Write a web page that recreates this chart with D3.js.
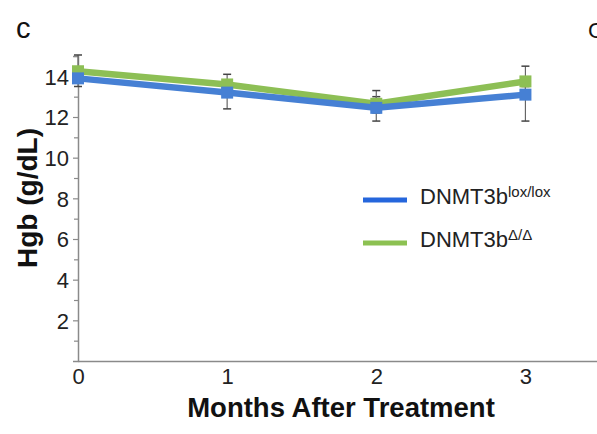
<!DOCTYPE html>
<html>
<head>
<meta charset="utf-8">
<script src="https://cdn.jsdelivr.net/npm/d3@7"></script>
<style>
  html, body { margin: 0; padding: 0; background: #fff; }
  svg { display: block; font-family: "Liberation Sans", Arial, sans-serif; }
</style>
</head>
<body>
<svg id="chart" width="597" height="434"></svg>
<script>
// Hemoglobin over time after treatment, two genotypes
const months = [0, 1, 2, 3];
const loxMean = [13.9, 13.2, 12.45, 13.1];
const loxErrLow = [13.5, 12.4, 11.8, 11.8];
const loxErrHigh = [14.3, 13.6, 13.0, 13.5];
const deltaMean = [14.25, 13.6, 12.65, 13.75];
const deltaErrLow = [13.9, 13.2, 12.2, 13.3];
const deltaErrHigh = [15.05, 14.1, 13.3, 14.5];
const yTicks = [2, 4, 6, 8, 10, 12, 14];
const yMinorTicks = [1, 3, 5, 7, 9, 11, 13, 15];
const xTicks = [0, 1, 2, 3];
const seriesNames = ["lox/lox", "Δ/Δ"];

const svg = d3.select("#chart");
const x = d3.scaleLinear().domain([0, 3.5]).range([78, 600]);
const y = d3.scaleLinear().domain([0, 15]).range([361, 56]);

const blue = "#4680d4";
const green = "#8dbf55";
const axisColor = "#8a8a8a";

// axes
const gY = svg.append("g").attr("transform", `translate(${x(0)},0)`)
  .call(d3.axisLeft(y).tickValues(yTicks).tickSize(5).tickPadding(4).tickFormat(d3.format("d")));
svg.append("g").attr("transform", `translate(${x(0)},0)`)
  .call(d3.axisLeft(y).tickValues(yMinorTicks).tickSize(4).tickFormat(""))
  .call(g => g.select(".domain").remove());
const gX = svg.append("g").attr("transform", `translate(0,${y(0)})`)
  .call(d3.axisBottom(x).tickValues(xTicks).tickSize(0).tickPadding(7).tickFormat(d3.format("d")));

svg.selectAll(".domain").attr("stroke", axisColor).attr("stroke-width", 1.5);
svg.selectAll(".tick line").attr("stroke", axisColor).attr("stroke-width", 1.2);
svg.selectAll(".tick text").attr("font-size", 22).attr("fill", "#222")
  .attr("font-family", "Liberation Sans, Arial, sans-serif");
gY.selectAll(".tick text").attr("dy", "0.36em");

// axis titles
svg.append("text")
  .attr("x", 341).attr("y", 417)
  .attr("text-anchor", "middle").attr("font-size", 27.5).attr("font-weight", "bold").attr("fill", "#111")
  .text("Months After Treatment");
svg.append("text")
  .attr("transform", "translate(37,198) rotate(-90)")
  .attr("text-anchor", "middle").attr("font-size", 28).attr("font-weight", "bold").attr("fill", "#111")
  .text("Hgb (g/dL)");

// panel letters
svg.append("text").attr("x", 16).attr("y", 38).attr("font-size", 29).attr("fill", "#111").text("c");
svg.append("text").attr("x", 588).attr("y", 38).attr("font-size", 22).attr("fill", "#111").text("C");

const series = [
  { mean: loxMean, lo: loxErrLow, hi: loxErrHigh, color: blue },
  { mean: deltaMean, lo: deltaErrLow, hi: deltaErrHigh, color: green }
];

// error bars
series.forEach(s => {
  const g = svg.append("g");
  months.forEach((m, i) => {
    g.append("line").attr("x1", x(m)).attr("x2", x(m))
      .attr("y1", y(s.lo[i])).attr("y2", y(s.hi[i]))
      .attr("stroke", "#666").attr("stroke-width", 1.2);
    [s.lo[i], s.hi[i]].forEach(v => {
      g.append("line").attr("x1", x(m) - 4).attr("x2", x(m) + 4)
        .attr("y1", y(v)).attr("y2", y(v))
        .attr("stroke", "#444").attr("stroke-width", 1.5);
    });
  });
});

// lines and markers
const line = d3.line().x((d, i) => x(months[i])).y(d => y(d));
[series[1], series[0]].forEach(s => {
  svg.append("path").datum(s.mean).attr("d", line)
    .attr("fill", "none").attr("stroke", s.color).attr("stroke-width", 6.5)
    .attr("stroke-linejoin", "round");
  svg.selectAll(null).data(s.mean).enter().append("rect")
    .attr("x", (d, i) => x(months[i]) - 6).attr("y", d => y(d) - 6)
    .attr("width", 12).attr("height", 12).attr("fill", s.color);
});

// legend
const legendColors = ["#2566dc", "#8cc152"];
const legend = svg.append("g");
seriesNames.forEach((name, i) => {
  const ly = 200 + i * 43;
  legend.append("line").attr("x1", 363).attr("x2", 407).attr("y1", ly).attr("y2", ly)
    .attr("stroke", legendColors[i]).attr("stroke-width", 5);
  const t = legend.append("text").attr("x", 420).attr("y", ly + 4)
    .attr("font-size", 22).attr("fill", "#222");
  t.append("tspan").text("DNMT3b");
  t.append("tspan").attr("font-size", 15).attr("dy", -7).text(name);
});
</script>
</body>
</html>
